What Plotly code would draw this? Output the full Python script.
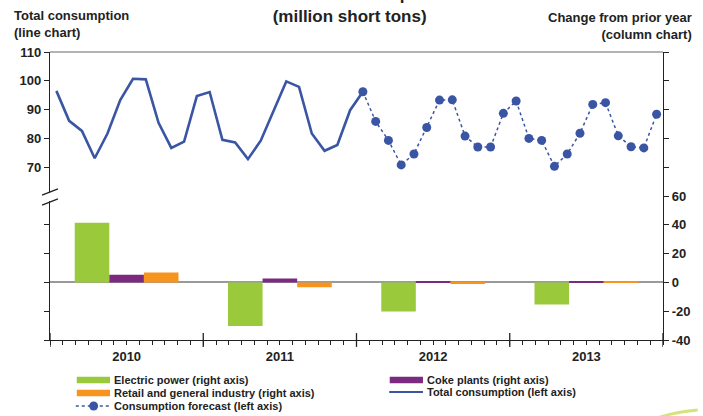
import plotly.graph_objects as go

# ---- data -------------------------------------------------------------
years = [2010, 2011, 2012, 2013]
year_labels = ["2010", "2011", "2012", "2013"]

# change from prior year, million short tons (right axis)
electric_power = [41.5, -30.3, -20.2, -15.3]
coke_plants = [5.3, 2.7, 0.5, 0.3]
retail_industry = [6.8, -3.4, -0.5, 0.3]

# monthly total consumption, Jan 2010 - Jan 2012 (left axis)
total_consumption = [96.5, 86.1, 82.6, 73.1, 81.7, 93.3, 100.7, 100.5, 85.4, 76.7, 78.9, 94.7,
                     96.1, 79.5, 78.6, 72.8, 79.2, 89.5, 99.8, 97.9, 81.7, 75.7, 77.7, 89.8,
                     96.2]
# monthly forecast, Jan 2012 - Dec 2013 (left axis)
consumption_forecast = [96.2, 85.9, 79.3, 70.8, 74.6, 83.8, 93.3, 93.4, 80.8, 77.0, 77.0, 88.7,
                        93.0, 80.0, 79.3, 70.3, 74.6, 81.8, 91.8, 92.4, 80.9, 77.1, 76.7, 88.4]

left_ticks = [10, 20, 30, 40, 50, 70, 80, 90, 100, 110]
left_labels = ["", "", "", "", "", "70", "80", "90", "100", "110"]
right_ticks = [-40, -20, 0, 20, 40, 60, 80, 100, 120, 140, 160]
right_labels = ["-40", "-20", "0", "20", "40", "60", "", "", "", "", ""]

# ---- styling ----------------------------------------------------------
GREEN = "#9aca3c"
PURPLE = "#7c2a80"
ORANGE = "#f7941d"
BLUE = "#3a55a4"
AXIS = "#222222"
GREY = "#9a9a9a"
FONT = "Liberation Sans, Arial, sans-serif"

# x axis measured in months from Jan 2010; points sit mid-month
hist_x = [i + 0.5 for i in range(len(total_consumption))]
fc_start = len(total_consumption) - 1
fc_x = [fc_start + i + 0.5 for i in range(len(consumption_forecast))]
year_x = [12 * (y - years[0]) + 6 for y in years]

fig = go.Figure()

for name, vals, col in [("Electric power (right axis)", electric_power, GREEN),
                        ("Coke plants (right axis)", coke_plants, PURPLE),
                        ("Retail and general industry (right axis)", retail_industry, ORANGE)]:
    fig.add_trace(go.Bar(x=year_x, y=vals, name=name, marker=dict(color=col, line_width=0),
                         yaxis="y2", showlegend=False))

fig.add_trace(go.Scatter(x=hist_x, y=total_consumption, mode="lines",
                         line=dict(color=BLUE, width=2.6), name="Total consumption (left axis)",
                         showlegend=False))
fig.add_trace(go.Scatter(x=fc_x, y=consumption_forecast, mode="lines+markers",
                         line=dict(color=BLUE, width=1.5, dash="dot"),
                         marker=dict(color=BLUE, size=9),
                         name="Consumption forecast (left axis)", showlegend=False))

n_months = 12 * len(years)
month_ticks = list(range(n_months + 1))
month_text = [""] * len(month_ticks)
for yx, lab in zip(year_x, year_labels):
    month_text[yx] = lab

tickfont = dict(family=FONT, size=13, color=AXIS, weight="bold")

fig.update_layout(
    width=703, height=416,
    margin=dict(l=50, r=35, t=52, b=76),
    paper_bgcolor="white", plot_bgcolor="white",
    barmode="group", bargap=0.323, bargroupgap=0,
    xaxis=dict(range=[0, n_months], tickmode="array", tickvals=month_ticks, ticktext=month_text,
               ticks="outside", ticklen=4, tickcolor=AXIS, tickwidth=1,
               showline=True, linecolor=AXIS, linewidth=1.3, showgrid=False, zeroline=False,
               tickfont=tickfont),
    yaxis=dict(range=[10, 110], tickmode="array", tickvals=left_ticks, ticktext=left_labels,
               ticks="outside", ticklen=5, tickcolor=AXIS, showline=True, linecolor=AXIS,
               linewidth=1.3, showgrid=False, zeroline=False, tickfont=tickfont),
    yaxis2=dict(range=[-40, 160], overlaying="y", side="right", tickmode="array",
                tickvals=right_ticks, ticktext=right_labels, ticks="outside", ticklen=5,
                tickcolor=AXIS, showline=True, linecolor=AXIS, linewidth=1.3, showgrid=False,
                zeroline=True, zerolinecolor=GREY, zerolinewidth=2, tickfont=tickfont),
    showlegend=False,
    font=dict(family=FONT, color=AXIS),
)

shapes = []
# top frame line
shapes.append(dict(type="line", xref="paper", yref="paper", x0=0, x1=1, y0=1, y1=1,
                   line=dict(color=GREY, width=1.5)))
# year separator ticks crossing the x axis
for k in range(len(years) + 1):
    shapes.append(dict(type="line", xref="x", yref="paper", x0=12 * k, x1=12 * k,
                       y0=-0.024, y1=0.024, line=dict(color=AXIS, width=1.3)))
# axis break on the left axis
shapes.append(dict(type="rect", xref="paper", yref="paper", x0=-0.004, x1=0.004,
                   y0=0.482, y1=0.512, fillcolor="white", line_width=0, layer="above"))
for yc in (0.514, 0.479):
    shapes.append(dict(type="line", xref="paper", yref="paper", x0=-0.013, x1=0.013,
                       y0=yc - 0.011, y1=yc + 0.011, line=dict(color=AXIS, width=1.3)))


def px(x):
    return (x - 50) / 618


def py(y):
    return (340 - y) / 288


# legend swatches
def swatch(x0, x1, yc, col):
    shapes.append(dict(type="rect", xref="paper", yref="paper", x0=px(x0), x1=px(x1),
                       y0=py(yc + 3.2), y1=py(yc - 3.2), fillcolor=col, line_width=0))


swatch(77, 110.5, 380, GREEN)
swatch(77, 110.5, 393, ORANGE)
swatch(392.5, 426, 380, PURPLE)
shapes.append(dict(type="line", xref="paper", yref="paper", x0=px(392), x1=px(426),
                   y0=py(392), y1=py(392), line=dict(color=BLUE, width=2.2)))
shapes.append(dict(type="line", xref="paper", yref="paper", x0=px(76), x1=px(111),
                   y0=py(406), y1=py(406), line=dict(color=BLUE, width=1.6, dash="dot")))
shapes.append(dict(type="circle", xref="paper", yref="paper", x0=px(89.5), x1=px(98.5),
                   y0=py(410.5), y1=py(401.5), fillcolor=BLUE, line_width=0))
# small decorative swoosh in the corner
shapes.append(dict(type="path", xref="paper", yref="paper",
                   path=f"M {px(660)} {py(417)} Q {px(682)} {py(410)} {px(703)} {py(408.5)} "
                        f"L {px(703)} {py(411.5)} Q {px(686)} {py(413)} {px(670)} {py(417)} Z",
                   fillcolor="#c9d94e", line_width=0, opacity=0.75))

fig.update_layout(shapes=shapes)

legend_font = dict(family=FONT, size=11, color=AXIS, weight="bold")
annotations = []
for xpix, ypix, text in [(113, 380, "Electric power (right axis)"),
                         (113, 393, "Retail and general industry (right axis)"),
                         (113, 406, "Consumption forecast (left axis)"),
                         (428.5, 380, "Coke plants (right axis)"),
                         (428.5, 392, "Total consumption (left axis)")]:
    annotations.append(dict(xref="paper", yref="paper", x=px(xpix), y=py(ypix), text=text,
                            showarrow=False, xanchor="left", yanchor="middle", font=legend_font))

head_font = dict(family=FONT, size=13, color=AXIS, weight="bold")
annotations.append(dict(xref="paper", yref="paper", x=px(12), y=py(24),
                        text="Total consumption<br>(line chart)", showarrow=False,
                        xanchor="left", yanchor="middle", align="left", font=head_font))
annotations.append(dict(xref="paper", yref="paper", x=px(699), y=py(26),
                        text="Change from prior year<br>(column chart)", showarrow=False,
                        xanchor="right", yanchor="middle", align="right", font=head_font))
annotations.append(dict(xref="paper", yref="paper", x=px(352), y=py(6),
                        text="U.S. coal consumption<br>(million short tons)", showarrow=False,
                        xanchor="center", yanchor="middle", align="center",
                        font=dict(family=FONT, size=17, color=AXIS, weight="bold")))
fig.update_layout(annotations=annotations)

fig.write_html("out.html")
